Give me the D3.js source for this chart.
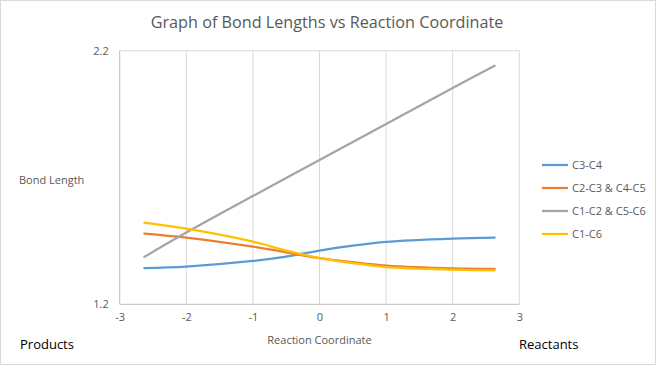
<!DOCTYPE html>
<html><head><meta charset="utf-8">
<script src="https://cdn.jsdelivr.net/npm/d3@7"></script>
<style>body{margin:0;background:#fff}svg{display:block}text{font-family:"Open Sans","Liberation Sans",sans-serif}</style>
</head><body>
<script>
const xValues = [-2.63, -2, -1, -0.5, 0, 0.5, 1, 2, 2.63];
const seriesNames = ["C3-C4", "C2-C3 & C4-C5", "C1-C2 & C5-C6", "C1-C6"];
const seriesColors = ["#5b9bd5", "#ed7d31", "#a5a5a5", "#ffc000"];
const c3c4 = [1.343, 1.349, 1.371, 1.388, 1.412, 1.431, 1.446, 1.459, 1.463];
const c2c3 = [1.479, 1.463, 1.427, 1.405, 1.382, 1.366, 1.353, 1.342, 1.340];
const c1c2 = [1.387, 1.483, 1.627, 1.698, 1.769, 1.840, 1.911, 2.053, 2.141];
const c1c6 = [1.522, 1.498, 1.447, 1.412, 1.382, 1.362, 1.347, 1.337, 1.334];
const seriesValues = [c3c4, c2c3, c1c2, c1c6];
const xTicks = [-3, -2, -1, 0, 1, 2, 3];
const yTicks = [1.2, 2.2];
const W = 657, H = 366;
const svg = d3.select("body").append("svg").attr("width", W).attr("height", H);
svg.append("rect").attr("x", 0.5).attr("y", 0.5).attr("width", W - 2).attr("height", H - 2)
  .attr("fill", "#fff").attr("stroke", "#d9d9d9");
const x = d3.scaleLinear().domain([-3, 3]).range([119.7, 519.3]);
const y = d3.scaleLinear().domain([1.2, 2.2]).range([304.3, 50.7]);
// gridlines
svg.append("g").selectAll("line").data(xTicks.slice(1)).join("line")
  .attr("x1", d => x(d)).attr("x2", d => x(d)).attr("y1", y(1.2)).attr("y2", y(2.2))
  .attr("stroke", "#d9d9d9").attr("stroke-width", 1);
svg.append("line").attr("x1", x(-3)).attr("x2", x(3)).attr("y1", y(2.2)).attr("y2", y(2.2))
  .attr("stroke", "#d9d9d9");
svg.append("line").attr("x1", x(-3)).attr("x2", x(3)).attr("y1", y(1.2)).attr("y2", y(1.2))
  .attr("stroke", "#bfbfbf");
svg.append("line").attr("x1", x(-3)).attr("x2", x(-3)).attr("y1", y(1.2)).attr("y2", y(2.2))
  .attr("stroke", "#bfbfbf");
// axes labels
const xAxis = d3.axisBottom(x).tickValues(xTicks).tickSize(0).tickPadding(9).tickFormat(d => String(d));
const gx = svg.append("g").attr("transform", `translate(0,${y(1.2)})`).call(xAxis);
gx.select(".domain").remove();
gx.selectAll("text").attr("fill", "#595959").style("font-size", "11px").style("font-family", '"Open Sans", sans-serif');
const yAxis = d3.axisLeft(y).tickValues(yTicks).tickSize(0).tickPadding(11).tickFormat(d => d.toFixed(1));
const gy = svg.append("g").attr("transform", `translate(${x(-3)},0)`).call(yAxis);
gy.select(".domain").remove();
gy.selectAll("text").attr("fill", "#595959").style("font-size", "11px").style("font-family", '"Open Sans", sans-serif');
// lines
const line = d3.line().x((d, i) => x(xValues[i])).y(d => y(d)).curve(d3.curveCatmullRom.alpha(0.5));
svg.append("g").selectAll("path").data(seriesValues).join("path")
  .attr("d", d => line(d)).attr("fill", "none")
  .attr("stroke", (d, i) => seriesColors[i]).attr("stroke-width", 2.25).attr("stroke-linecap", "round");
// legend
const lg = svg.append("g").selectAll("g").data(seriesNames).join("g")
  .attr("transform", (d, i) => `translate(542,${165 + i * 23})`);
lg.append("line").attr("x1", 0).attr("x2", 26).attr("stroke", (d, i) => seriesColors[i]).attr("stroke-width", 2.25);
lg.append("text").attr("x", 30).attr("dy", "0.35em").attr("fill", "#595959").style("font-size", "11px").text(d => d);
// titles
svg.append("text").attr("x", 327).attr("y", 28).attr("text-anchor", "middle").attr("fill", "#595959")
  .style("font-size", "16.2px").text("Graph of Bond Lengths vs Reaction Coordinate");
svg.append("text").attr("x", 19).attr("y", 184).attr("fill", "#595959").style("font-size", "11px").text("Bond Length");
svg.append("text").attr("x", 319.5).attr("y", 344).attr("text-anchor", "middle").attr("fill", "#595959")
  .style("font-size", "11px").text("Reaction Coordinate");
svg.append("text").attr("x", 20).attr("y", 349).attr("fill", "#000").style("font-size", "13px").text("Products");
svg.append("text").attr("x", 519).attr("y", 349).attr("fill", "#000").style("font-size", "13px").text("Reactants");
</script>
</body></html>
